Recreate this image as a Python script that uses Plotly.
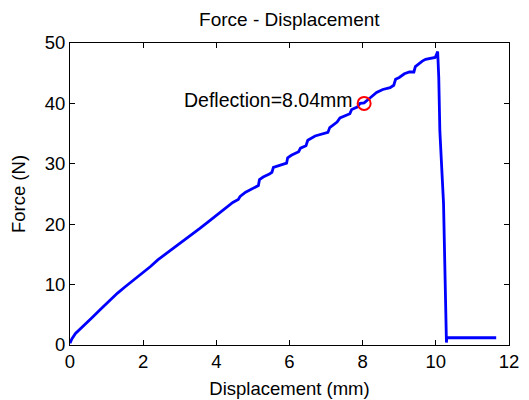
import plotly.graph_objects as go

displacement = [0, 0.05, 0.15, 0.4, 0.6, 0.85, 1.05, 1.3, 1.5, 1.75, 1.95, 2.2, 2.4, 2.65, 2.86,
                3.1, 3.3, 3.55, 3.76, 4.0, 4.2, 4.45, 4.6, 4.65, 4.8, 5.0, 5.15, 5.18, 5.28, 5.45,
                5.52, 5.56, 5.8, 5.92, 5.95, 6.05, 6.25, 6.3, 6.45, 6.5, 6.7, 6.9, 7.05, 7.1, 7.3,
                7.38, 7.55, 7.65, 7.7, 7.85, 7.93, 8.04, 8.2, 8.38, 8.55, 8.75, 8.85, 8.9, 9.0,
                9.14, 9.28, 9.4, 9.44, 9.53, 9.63, 9.72, 9.85, 9.98, 10.02, 10.05, 10.08, 10.11,
                10.21, 10.24, 10.29, 10.3, 11.65]
force = [0.3, 1.0, 1.9, 3.3, 4.5, 6.0, 7.2, 8.6, 9.6, 10.8, 11.9, 13.0, 14.1, 15.2, 16.2,
         17.2, 18.1, 19.3, 20.3, 21.4, 22.4, 23.6, 24.1, 24.6, 25.3, 26.0, 26.4, 27.4, 27.8, 28.3,
         28.6, 29.4, 29.8, 30.1, 31.0, 31.4, 32.0, 32.6, 33.0, 33.9, 34.6, 35.0, 35.2, 36.0, 36.9,
         37.6, 38.0, 38.3, 39.0, 39.4, 40.0, 40.1, 40.9, 41.8, 42.3, 42.6, 43.0, 44.0, 44.3,
         44.9, 45.2, 45.2, 46.1, 46.6, 47.0, 47.3, 47.4, 47.6, 48.1, 48.6, 44.3, 35.4,
         23.5, 14.9, 0.4, 1.2, 1.2]

marker_x = [8.04]
marker_y = [40.0]
marker_label = "Deflection=8.04mm"

x_ticks = [0, 2, 4, 6, 8, 10, 12]
y_ticks = [0, 10, 20, 30, 40, 50]

FONT = "Liberation Sans, Arial, sans-serif"
FS = 18.5

fig = go.Figure()
fig.add_trace(go.Scatter(x=displacement, y=force, mode="lines",
                         line=dict(color="#0000FF", width=2.8), showlegend=False))
fig.add_trace(go.Scatter(x=marker_x, y=marker_y, mode="markers",
                         marker=dict(symbol="circle-open", size=13, color="#FF0000",
                                     line=dict(width=2, color="#FF0000")),
                         showlegend=False))
fig.add_annotation(x=marker_x[0], y=marker_y[0], xref="x", yref="y", text=marker_label,
                   showarrow=False, xanchor="right", yanchor="middle", xshift=-9, yshift=3,
                   font=dict(family=FONT, size=19.5, color="black"))

axis_common = dict(showgrid=False, zeroline=False, showline=True, linecolor="black",
                   linewidth=1, mirror="ticks", ticks="inside", ticklen=5, tickwidth=1,
                   tickcolor="black", automargin=False,
                   tickfont=dict(family=FONT, size=FS, color="black"))

fig.update_layout(
    width=521, height=392,
    margin=dict(l=62, r=20, t=35, b=55),
    paper_bgcolor="white", plot_bgcolor="white",
    title=dict(text="Force - Displacement", x=0.540, xanchor="center", y=0.972, yanchor="middle",
               automargin=False, font=dict(family=FONT, size=19, color="black")),
    xaxis=dict(range=[0, 12], tickvals=x_ticks,
               title=dict(text="Displacement (mm)", font=dict(family=FONT, size=FS, color="black"),
                          standoff=10),
               **axis_common),
    yaxis=dict(range=[0, 50], tickvals=y_ticks,
               title=dict(text="Force (N)", font=dict(family=FONT, size=FS, color="black"),
                          standoff=18),
               **axis_common),
)

fig.write_html("out.html")
